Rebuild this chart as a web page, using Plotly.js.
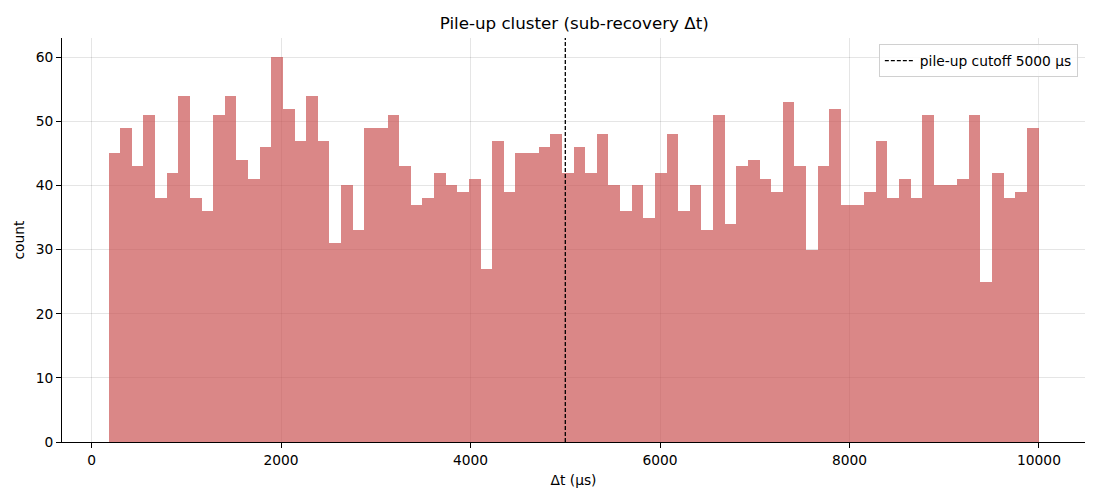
<!DOCTYPE html>
<html>
<head>
<meta charset="utf-8">
<script src="https://cdn.plot.ly/plotly-3.0.1.min.js"></script>
<style>
  html, body { margin: 0; padding: 0; background: #fff; }
  #chart { width: 1100px; height: 500px; }
</style>
</head>
<body>
<div id="chart"></div>
<script>
// histogram bins (Δt in µs)
const binStart = 178;
const binEnd = 9995;
const counts = [
  45, 49, 43, 51, 38, 42, 54, 38, 36, 51,
  54, 44, 41, 46, 60, 52, 47, 54, 47, 31,
  40, 33, 49, 49, 51, 43, 37, 38, 42, 40,
  39, 41, 27, 47, 39, 45, 45, 46, 48, 42,
  46, 42, 48, 40, 36, 40, 35, 42, 48, 36,
  40, 33, 51, 34, 43, 44, 41, 39, 53, 43,
  30, 43, 52, 37, 37, 39, 47, 38, 41, 38,
  51, 40, 40, 41, 51, 25, 42, 38, 39, 49
];
const cutoff = 5000;
const cutoffLabel = 'pile-up cutoff 5000 µs';

const binWidth = (binEnd - binStart) / counts.length;
const centers = counts.map((_, i) => binStart + binWidth * (i + 0.5));

const yMax = Math.max(...counts) * 1.05;
const pad = (binEnd - binStart) * 0.05;

let bars = {
  type: 'bar',
  x: centers,
  y: counts,
  width: binWidth,
  marker: { color: 'rgba(202,84,84,0.7)', line: { width: 0 } },
  showlegend: false,
  hoverinfo: 'x+y',
};

let cutLine = {
  type: 'scatter',
  mode: 'lines',
  x: [cutoff, cutoff],
  y: [0, yMax],
  line: { color: 'black', width: 1.3, dash: '4px,2px' },
  name: cutoffLabel,
};

let axisCommon = {
  showline: true,
  linecolor: 'black',
  linewidth: 1,
  ticks: 'outside',
  ticklen: 5,
  tickcolor: 'black',
  showgrid: true,
  gridcolor: 'rgba(0,0,0,0.1)',
  gridwidth: 1,
  zeroline: false,
  tickfont: { size: 13.8, color: 'black' },
};

let layout = {
  width: 1100,
  height: 500,
  margin: { l: 62, r: 15, t: 38, b: 58 },
  font: { family: 'DejaVu Sans, sans-serif', color: 'black' },
  paper_bgcolor: 'white',
  plot_bgcolor: 'white',
  bargap: 0,
  title: {
    text: 'Pile-up cluster (sub-recovery Δt)',
    font: { size: 16.7, color: 'black' },
    x: 0.522,
    xanchor: 'center',
    y: 0.954,
    yanchor: 'middle',
  },
  xaxis: Object.assign({}, axisCommon, {
    range: [binStart - pad, binEnd + pad],
    tickvals: [0, 2000, 4000, 6000, 8000, 10000],
    ticktext: ['0', '2000', '4000', '6000', '8000', '10000'],
    title: { text: 'Δt (µs)', font: { size: 13.8 }, standoff: 8 },
  }),
  yaxis: Object.assign({}, axisCommon, {
    range: [0, yMax],
    tickvals: [0, 10, 20, 30, 40, 50, 60],
    title: { text: 'count', font: { size: 13.8 }, standoff: 7 },
  }),
  legend: {
    x: 0.993,
    xanchor: 'right',
    y: 0.985,
    yanchor: 'top',
    bgcolor: 'rgba(255,255,255,0.85)',
    bordercolor: '#d0d0d0',
    borderwidth: 1,
    font: { size: 13.8 },
    itemwidth: 30,
    tracegroupgap: 0,
  },
};

Plotly.newPlot('chart', [bars, cutLine], layout, { displayModeBar: false });
</script>
</body>
</html>
